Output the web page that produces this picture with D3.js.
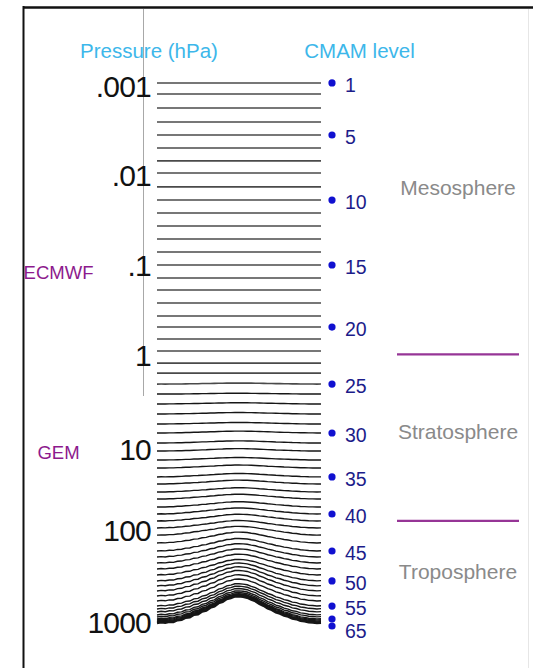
<!DOCTYPE html>
<html>
<head>
<meta charset="utf-8">
<script src="https://cdn.jsdelivr.net/npm/d3@7"></script>
<style>
  html, body { margin: 0; padding: 0; background: #fff; }
  svg { display: block; font-family: "Liberation Sans", Arial, Helvetica, sans-serif; }
</style>
</head>
<body>
<svg id="chart" width="533" height="668"></svg>
<script>
// Pressure of each CMAM model level (hPa) over flat ground, surface at 1000 hPa
const levelPressure = [
  0.00090, 0.00120, 0.00172, 0.00247, 0.00346, 0.00484, 0.00677, 0.00924, 0.0132, 0.0185,
  0.0258, 0.0360, 0.0501, 0.0698, 0.0975, 0.136, 0.185, 0.258, 0.360, 0.477,
  0.647, 0.879, 1.19, 1.52, 1.99, 2.54, 3.24, 4.14, 5.29, 6.59,
  8.43, 10.3, 13.3, 16.7, 21.5, 26.3, 33.0, 40.3, 50.6, 61.7,
  75.3, 91.8, 111, 135, 165, 192, 223, 259, 301, 349,
  396, 449, 509, 577, 654, 705, 759, 818, 861, 905,
  928, 951, 975, 988, 1000
];

// Hybrid B coefficient of each level (p = A + B * ps)
const hybridB = [
  0, 0, 0, 0, 0, 0, 0, 0, 0, 0,
  0, 0, 0, 0, 0, 0, 0, 0, 0, 0,
  0, 0, 0, 0, 0.0001, 0.0001, 0.0002, 0.0003, 0.0004, 0.0006,
  0.0009, 0.0013, 0.0019, 0.0028, 0.0041, 0.0056, 0.0077, 0.0105, 0.0145, 0.020,
  0.027, 0.036, 0.048, 0.066, 0.091, 0.112, 0.136, 0.165, 0.200, 0.258,
  0.31, 0.37, 0.43, 0.50, 0.574, 0.63, 0.69, 0.76, 0.81, 0.87,
  0.90, 0.93, 0.96, 0.98, 1.0
];

const referenceSurface = 1000;

// Idealised mountain: horizontal position and surface pressure (hPa)
const terrainX = [
  0, 2.5, 5, 7.5, 10, 12.5, 15, 17.5, 20, 22.5,
  25, 27.5, 30, 32.5, 35, 37.5, 40, 42.5, 45, 47.5,
  50, 52.5, 55, 57.5, 60, 62.5, 65, 67.5, 70, 72.5,
  75, 77.5, 80, 82.5, 85, 87.5, 90, 92.5, 95, 97.5, 100
];
const terrainPs = [
  1000, 982, 994, 968, 971, 930, 921, 874, 866, 812,
  801, 748, 731, 680, 660, 608, 588, 548, 536, 514,
  512, 519, 530, 556, 578, 620, 649, 693, 720, 765,
  789, 830, 852, 893, 908, 945, 958, 980, 986, 997, 990
];

// Pressure axis labels
const pressureTicks = [0.001, 0.01, 0.1, 1, 10, 100, 1000];
const pressureTickLabels = [".001", ".01", ".1", "1", "10", "100", "1000"];

// Labelled CMAM levels
const markedLevels = [1, 5, 10, 15, 20, 25, 30, 35, 40, 45, 50, 55, 60, 65];
const markedLevelText = ["1", "5", "10", "15", "20", "25", "30", "35", "40", "45", "50", "55", "", "65"];

// Model names beside the pressure axis
const modelNames = ["ECMWF", "GEM"];
const modelNamePressure = [0.117, 10.6];

// Atmospheric layers and their boundaries (hPa)
const layerNames = ["Mesosphere", "Stratosphere", "Troposphere"];
const layerLabelPressure = [0.0136, 6.44, 279];
const layerBoundaries = [0.96, 75];

const svg = d3.select("#chart");

const x = d3.scaleLinear().domain([0, 100]).range([157, 321]);
// Pressure axis: one segment per decade
const y = d3.scaleLog()
  .domain(pressureTicks)
  .range([87, 176, 266, 356, 450, 531, 623]);

// Frame
svg.append("line").attr("x1", 23).attr("x2", 533).attr("y1", 7.5).attr("y2", 7.5)
  .attr("stroke", "#111").attr("stroke-width", 2.5);
svg.append("line").attr("x1", 23.5).attr("x2", 23.5).attr("y1", 6).attr("y2", 668)
  .attr("stroke", "#111").attr("stroke-width", 2);
svg.append("line").attr("x1", 528.5).attr("x2", 528.5).attr("y1", 9).attr("y2", 668)
  .attr("stroke", "#e6e6e6").attr("stroke-width", 1);
svg.append("line").attr("x1", 143.5).attr("x2", 143.5).attr("y1", 9).attr("y2", 396)
  .attr("stroke", "#a8a8a8").attr("stroke-width", 1);

// Headings
svg.append("text").attr("x", 149).attr("y", 58).attr("text-anchor", "middle")
  .attr("fill", "#3db7ea").attr("font-size", 20.5).text("Pressure (hPa)");
svg.append("text").attr("x", 359.5).attr("y", 58).attr("text-anchor", "middle")
  .attr("fill", "#3db7ea").attr("font-size", 20.5).text("CMAM level");

// Model level lines following the terrain
const levels = levelPressure.map((p0, i) => {
  const B = hybridB[i];
  const A = p0 - B * referenceSurface;
  return terrainX.map((tx, j) => ({ x: tx, p: A + B * terrainPs[j] }));
});

const line = d3.line().x(d => x(d.x)).y(d => y(d.p));
const last = levels.length - 1;

svg.append("g").selectAll("path").data(levels).join("path")
  .attr("d", line)
  .attr("fill", "none")
  .attr("stroke", (d, i) => i < 25 ? "#4a4a4a" : "#161616")
  .attr("stroke-width", (d, i) => i === last ? 2.6 : (i < 25 ? 1.6 : 1.4));

// Pressure axis
const axis = d3.axisLeft(y)
  .tickValues(pressureTicks)
  .tickFormat((d, i) => pressureTickLabels[i])
  .tickSize(0)
  .tickPadding(6);
const gAxis = svg.append("g").attr("transform", "translate(157,0)").call(axis);
gAxis.select(".domain").remove();
gAxis.selectAll("text")
  .attr("font-family", "\"Liberation Sans\", Arial, sans-serif")
  .attr("font-size", 30).attr("fill", "#111").attr("letter-spacing", -0.8);

// Model names
svg.append("g").selectAll("text").data(modelNames).join("text")
  .attr("x", 58.5)
  .attr("y", (d, i) => y(modelNamePressure[i]))
  .attr("dy", "0.35em")
  .attr("text-anchor", "middle")
  .attr("fill", "#8d1a8d").attr("font-size", 18.5)
  .text(d => d);

// CMAM level markers; the deepest one sits just below its neighbour
const gLevels = svg.append("g");
const markerY = (d, i) => y(levelPressure[d - 1]) + (i === markedLevels.length - 1 ? 3 : 0);
gLevels.selectAll("circle").data(markedLevels).join("circle")
  .attr("cx", 332)
  .attr("cy", markerY)
  .attr("r", 3.6)
  .attr("fill", "#1010d0");
gLevels.selectAll("text").data(markedLevels).join("text")
  .attr("x", 345)
  .attr("y", (d, i) => markerY(d, i) + (i === markedLevels.length - 1 ? 5 : 2))
  .attr("dy", "0.35em")
  .attr("fill", "#1c1c8a").attr("font-size", 19.5)
  .text((d, i) => markedLevelText[i]);

// Atmospheric layers
svg.append("g").selectAll("text").data(layerNames).join("text")
  .attr("x", 458)
  .attr("y", (d, i) => y(layerLabelPressure[i]))
  .attr("dy", "0.35em")
  .attr("text-anchor", "middle")
  .attr("fill", "#8a8a8a").attr("font-size", 21)
  .text(d => d);
svg.append("g").selectAll("line").data(layerBoundaries).join("line")
  .attr("x1", 397).attr("x2", 519)
  .attr("y1", d => y(d)).attr("y2", d => y(d))
  .attr("stroke", "#963596").attr("stroke-width", 2.2);
</script>
</body>
</html>
